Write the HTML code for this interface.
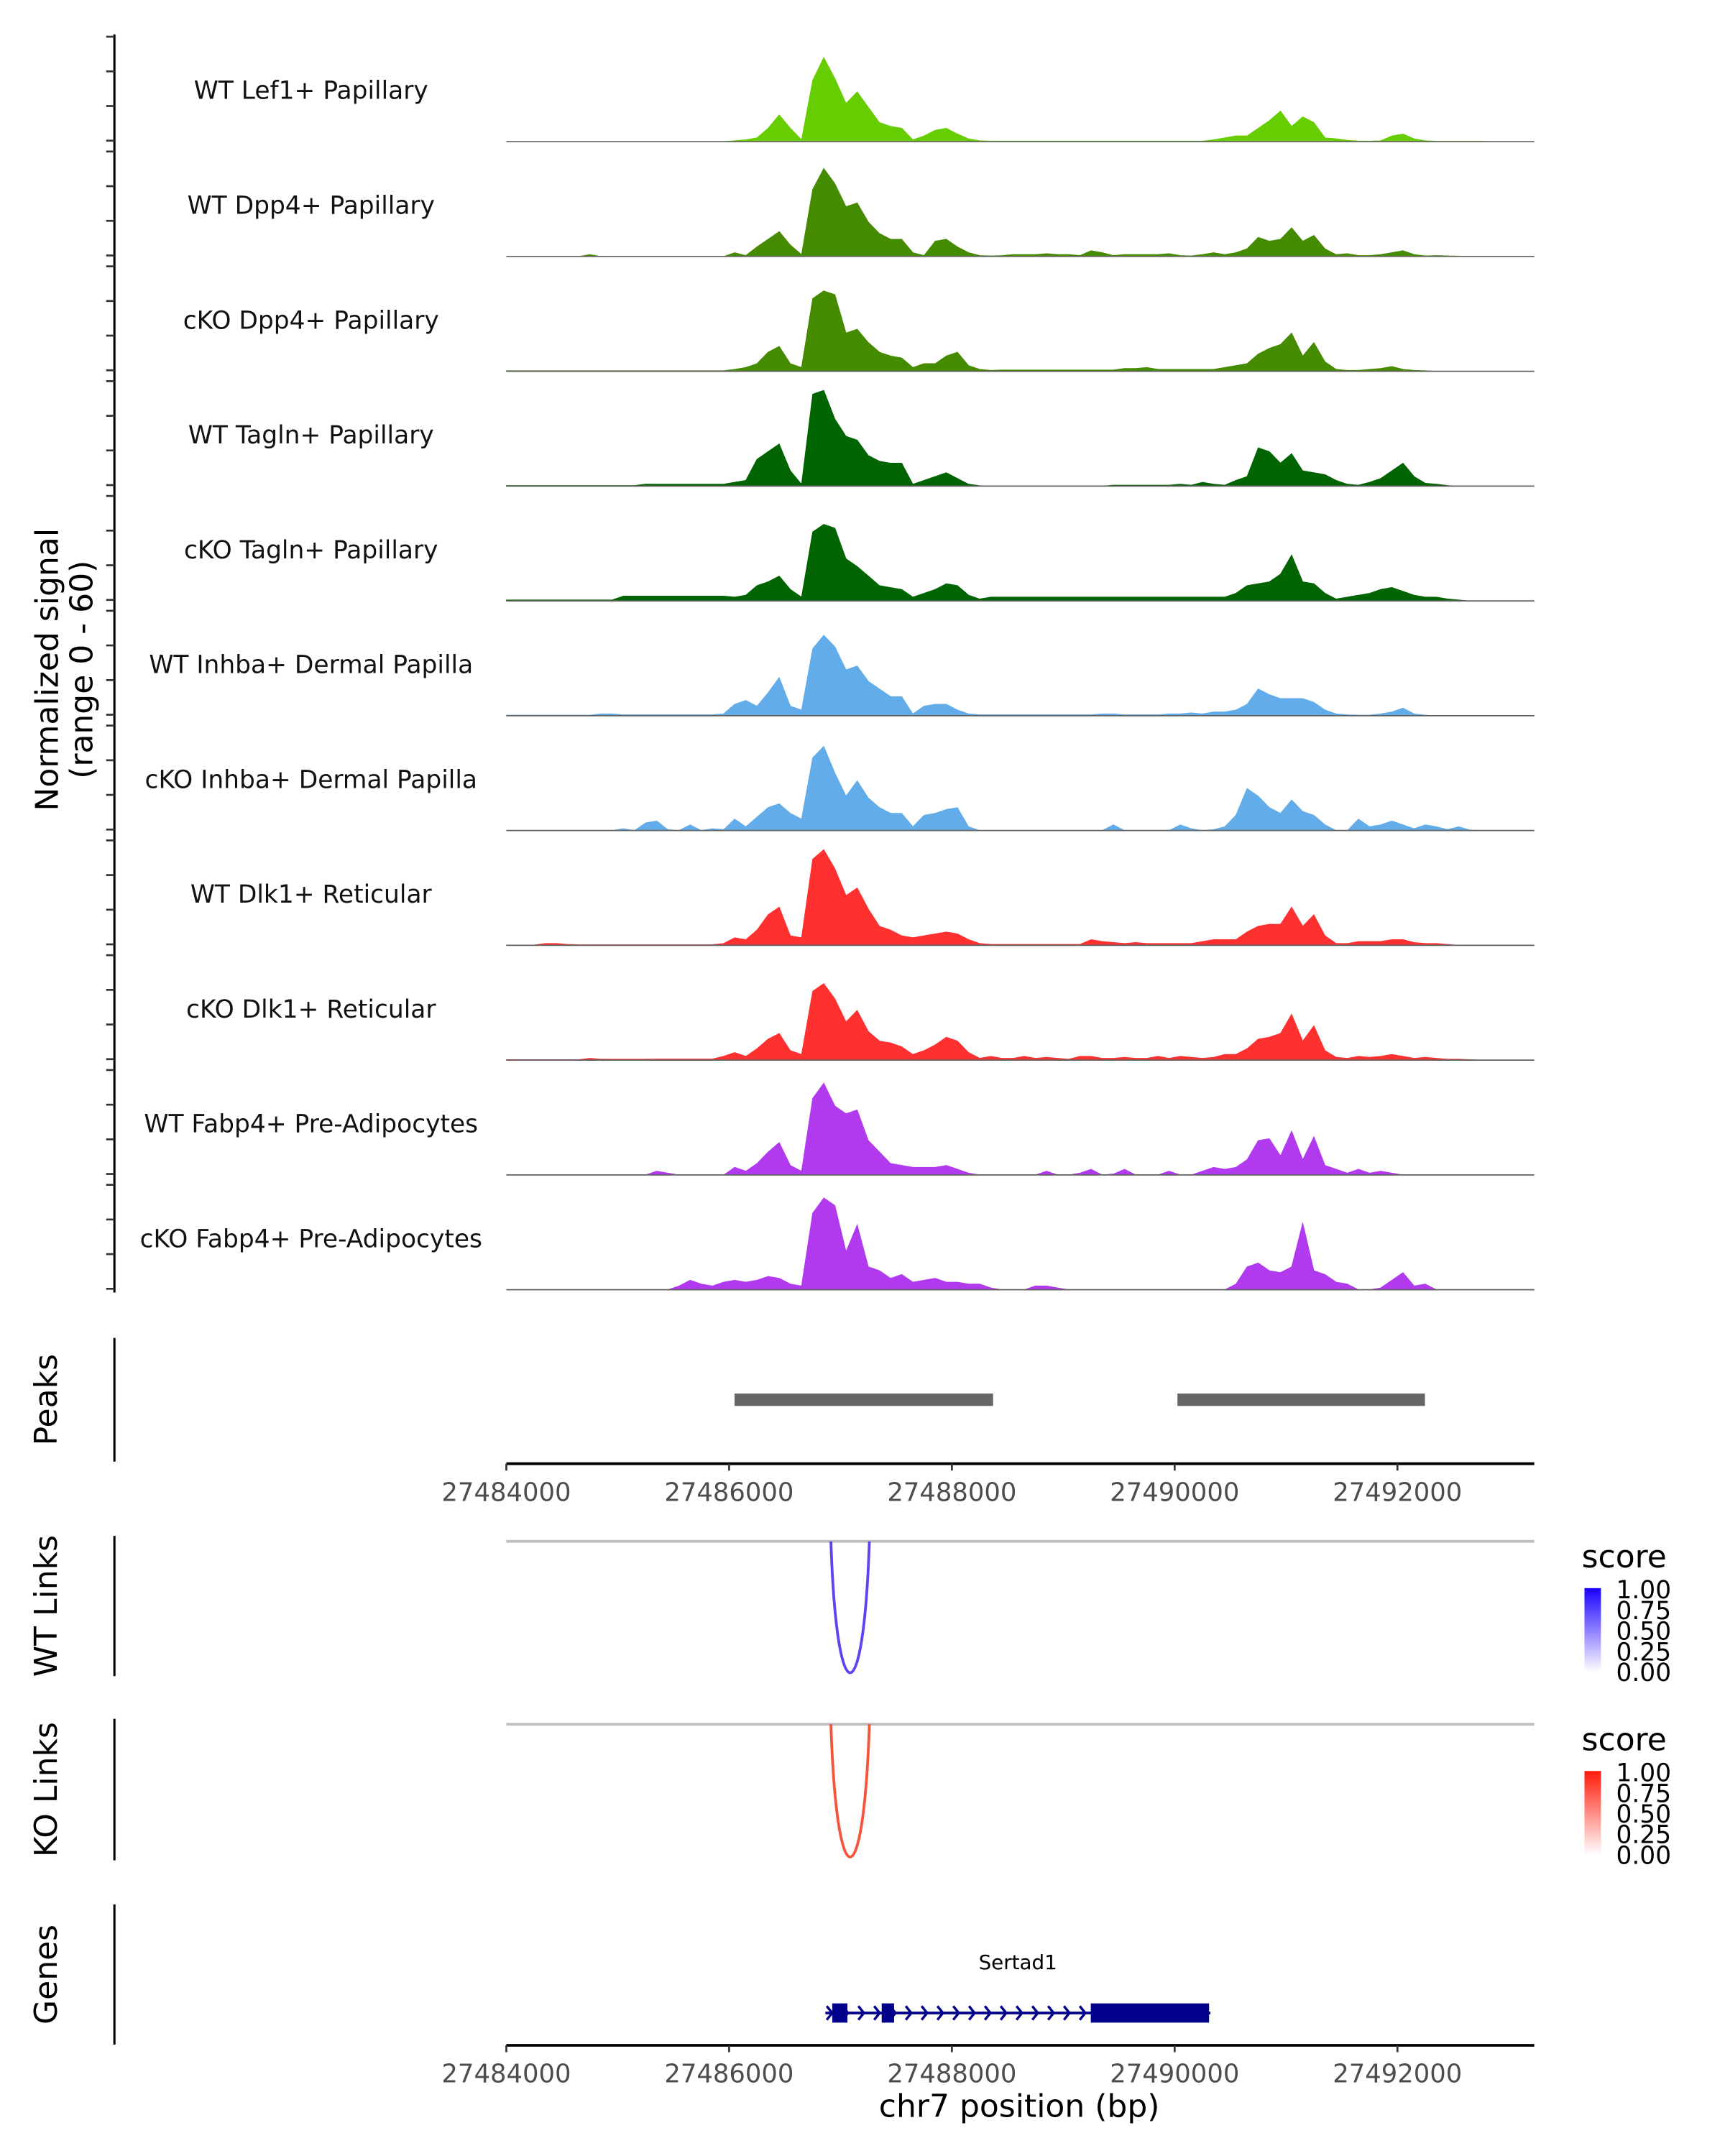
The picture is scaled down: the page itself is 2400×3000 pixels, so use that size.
<!DOCTYPE html>
<html><head><meta charset="utf-8"><title>Coverage plot Sertad1</title>
<style>html,body{margin:0;padding:0;background:#fff}svg{display:block}text{font-family:"DejaVu Sans","Liberation Sans",sans-serif}</style>
</head><body>
<svg id="chart" xmlns="http://www.w3.org/2000/svg" width="2400" height="3000" viewBox="0 0 1254 1568">
<defs>
<linearGradient id="gradWT" x1="0" y1="1" x2="0" y2="0"><stop offset="0" stop-color="#ffffff"/><stop offset="1" stop-color="#1a00ff"/></linearGradient>
<linearGradient id="gradKO" x1="0" y1="1" x2="0" y2="0"><stop offset="0" stop-color="#ffffff"/><stop offset="1" stop-color="#ff1a0a"/></linearGradient>
</defs>
<g id="tracks"></g>
<text transform="translate(42,487) rotate(-90)" text-anchor="middle" font-size="23">Normalized signal</text>
<text transform="translate(67,487) rotate(-90)" text-anchor="middle" font-size="23">(range 0 - 60)</text>
<g id="peaks"></g>
<g id="links"></g>
<g id="genes"></g>
</svg>
<script>
const NS='http://www.w3.org/2000/svg';
const binStart=27484000, binSize=100;
const trackNames=["WT Lef1+ Papillary","WT Dpp4+ Papillary","cKO Dpp4+ Papillary","WT Tagln+ Papillary","cKO Tagln+ Papillary","WT Inhba+ Dermal Papilla","cKO Inhba+ Dermal Papilla","WT Dlk1+ Reticular","cKO Dlk1+ Reticular","WT Fabp4+ Pre-Adipocytes","cKO Fabp4+ Pre-Adipocytes"];
const trackColors=["#66cd00","#458b00","#458b00","#006400","#006400","#63acea","#63acea","#ff3030","#ff3030","#b23aee","#b23aee"];
const sigLef1WT=[0,0,0,0,0,0,0,0,0,0,0,0,0,0,0,0,0,0,0,0,0,0.5,1,2,7,14,7,1,32,44,33,20,26,18,10,8,7,1,3,6,7,4,1.5,0.5,0.3,0.3,0.3,0.3,0.3,0.3,0.3,0.3,0.3,0.3,0.3,0.3,0.3,0.3,0.3,0.3,0.3,0.3,0.3,0.3,1,2,3,3,7,11,16,8,13,10,2,1.5,0.7,0.3,0.3,0.5,3,4,1.5,0.5,0.2,0.2,0.2,0.2,0.2,0,0,0,0];
const sigDpp4WT=[0,0,0,0,0,0,0,0,1,0,0,0,0,0,0,0,0,0,0,0,0,2,0.5,5,9,13,6,1,35,46,38,26,28,18,12,9,9,2,0.5,8,9,5,2,0.5,0.3,0.5,1,1,1,1.5,1,1,0.5,3,2,0.5,1,1,1,1,1.5,0.5,0.3,1,2,1,2,4,10,8,9,15,8,11,4,1,1.5,0.5,0.5,1,2,3,1,0.3,0.5,0.3,0.2,0,0,0,0,0,0];
const sigDpp4KO=[0.3,0.3,0.3,0.3,0.3,0.3,0.3,0.3,0.3,0.3,0.3,0.3,0.3,0.3,0.3,0.3,0.3,0.3,0.3,0.3,0.3,1,2,4,10,13,4,2,38,42,40,20,22,15,10,8,7,2,4,4,8,10,3,1,0.5,0.7,0.7,0.7,0.7,0.7,0.7,0.7,0.7,0.7,0.7,0.7,1.5,1.5,2,1,1,1,1,1,1,2,3,4,9,12,14,20,8,15,5,1,0.5,0.5,1,1.5,2.5,1,0.5,0.3,0,0,0,0,0,0,0,0,0];
const sigTaglnWT=[0.3,0.3,0.3,0.3,0.3,0.3,0.3,0.3,0.3,0.3,0.3,0.3,0.3,1,1,1,1,1,1,1,1,2,3,14,18,22,8,1,48,50,35,26,24,16,13,12,12,1,3,5,7,4,1,0.2,0,0,0,0,0,0,0,0,0,0,0,0.5,0.5,0.5,0.5,0.5,0.5,1,0.5,2,1,0.5,3,5,20,18,12,17,8,7,6,3,1,0.5,2,4,8,12,5,1.5,1,0.3,0,0,0,0,0,0,0];
const sigTaglnKO=[0.5,0.5,0.5,0.5,0.5,0.5,0.5,0.5,0.5,0.5,0.5,2.5,2.5,2.5,2.5,2.5,2.5,2.5,2.5,2.5,2.5,2,3,8,10,13,6,2,36,40,38,22,18,13,8,7,6,2,4,6,9,8,3,1,2,2,2,2,2,2,2,2,2,2,2,2,2,2,2,2,2,2,2,2,2,2,4,8,9,10,14,24,10,9,4,1,2,3,4,6,7,5,3,2,2,1,0.5,0,0,0,0,0,0];
const sigInhbaWT=[0.3,0.3,0.3,0.3,0.3,0.3,0.3,0.3,0.3,1,1,0.5,0.5,0.5,0.5,0.5,0.5,0.5,0.5,0.5,1,6,8,5,12,20,5,3,35,42,36,24,26,18,14,10,10,1,5,6,6,3,1,0.5,0.5,0.5,0.5,0.5,0.5,0.5,0.5,0.5,0.5,0.5,1,1,0.5,0.5,0.5,0.5,1,1,1.5,1,2,2,3,6,14,11,9,9,9,7,3,1,0.5,0.3,0.3,1,2,4,1,0.3,0,0,0,0,0,0,0,0,0];
const sigInhbaKO=[0,0,0,0,0,0,0,0,0,0,0,1,0,4,5,0.5,0,3,0,1,0.5,6,2,7,12,14,9,6,38,44,30,18,26,17,12,9,9,2,8,9,11,12,2,0,0,0,0,0,0,0,0,0,0,0,0,3,0,0,0,0,0,3,1,0,0.5,2,8,22,18,12,9,16,10,8,3,0,0,6,2,3,5,3,1,3,2,0.5,2,0.3,0,0,0,0,0];
const sigDlk1WT=[0.2,0.2,0.2,0.2,1,1,0.5,0.3,0.3,0.3,0.3,0.3,0.3,0.3,0.3,0.3,0.3,0.3,0.3,0.3,1,4,3,8,16,20,5,4,45,50,40,26,30,19,10,8,5,4,5,6,7,6,3,1,0.5,0.5,0.5,0.5,0.5,0.5,0.5,0.5,0.5,3,2,1.5,1,1.5,1,1,1,1,1,2,3,3,3,7,10,11,11,20,10,16,5,1,1,2,2,2,3,3,1.5,1,1,0.5,0,0,0,0,0,0,0];
const sigDlk1KO=[0.3,0.3,0.3,0.3,0.3,0.3,0.3,0.3,1,0.5,0.5,0.5,0.5,0.5,0.6,0.6,0.6,0.6,0.6,0.6,2,4,2,6,11,14,5,3,36,40,32,20,26,15,10,9,7,3,5,8,12,10,4,1,2,1,1,2,1,1.5,1,0.5,2,2,1,1,1.5,1,1,2,1,2,1.5,1,1.5,3,3,6,11,12,14,24,10,18,5,1.5,1,2,1.5,2,3,2,1,1.5,1,0.5,0.5,0.3,0,0,0,0,0];
const sigFabp4WT=[0,0,0,0,0,0,0,0,0,0,0,0,0,0,2,1,0,0,0,0,0,4,2,6,12,17,5,2,40,48,36,32,34,18,12,6,5,4,4,4,5,3,1,0,0,0,0,0,0,2,0,0,1,3,0,0.5,3,0,0,0,2,0,0,2,4,3,4,8,18,19,10,23,8,20,5,3,1,3,1,2,1,0,0,0,0,0,0,0,0,0,0,0,0];
const sigFabp4KO=[0,0,0,0,0,0,0,0,0,0,0,0,0,0,0,0,2,5,3,2,4,5,4,5,7,6,3,2,40,48,44,20,34,12,10,6,8,4,5,6,4,4,3,3,1,0,0,0,2,2,1,0,0,0,0,0,0,0,0,0,0,0,0,0,0,0,3,12,14,10,9,12,35,10,8,4,3,0,0,1,5,9,2,3,0,0,0,0,0,0,0,0,0];
const trackData=[sigLef1WT,sigDpp4WT,sigDpp4KO,sigTaglnWT,sigTaglnKO,sigInhbaWT,sigInhbaKO,sigDlk1WT,sigDlk1KO,sigFabp4WT,sigFabp4KO];
const xTicks=[27484000,27486000,27488000,27490000,27492000];
const yTicks=[0,20,40,60];
const peakStarts=[27486049,27490025];
const peakEnds=[27488370,27492247];
const linkStartsWT=[27486914], linkEndsWT=[27487259], linkScoresWT=[0.9];
const linkStartsKO=[27486914], linkEndsKO=[27487259], linkScoresKO=[0.85];
const legendLabels=["1.00","0.75","0.50","0.25","0.00"];
const legendValues=[1,0.75,0.5,0.25,0];
const geneName="Sertad1";
const geneStart=27486864, geneEnd=27490321;
const exonStarts=[27486926,27487370,27489247];
const exonEnds=[27487062,27487481,27490309];

const X0=368, X1=1115.5;
function xs(bp){return X0+(bp-binStart)*0.081;}
function xsc(bp){return Math.max(X0,Math.min(X1,xs(bp)));}
const trackBase0=103, trackStep=83.5, pxPerUnit=1.393, tickPxPerUnit=1.26;
function ys(i,v){return trackBase0+i*trackStep-v*pxPerUnit;}
function el(tag,attrs,parent){const e=document.createElementNS(NS,tag);for(const k in attrs)e.setAttribute(k,attrs[k]);parent.appendChild(e);return e;}

const gT=document.getElementById('tracks');
const ax=el('line',{x1:83,y1:25,x2:83,y2:940,stroke:'#000','stroke-width':1.6},gT);


trackData.forEach((vals,i)=>{
  const base=trackBase0+i*trackStep;
  let d='M'+X0+','+base;
  vals.forEach((v,k)=>{d+=' L'+xsc(binStart+k*binSize-50).toFixed(2)+','+ys(i,v).toFixed(2);});
  d+=' L'+xsc(binStart+vals.length*binSize-50)+','+base+' Z';
  const p=el('path',{d:d,fill:trackColors[i],stroke:trackColors[i],'stroke-width':0.4},gT);
  
  
  const bl=el('line',{x1:X0,y1:base,x2:X1,y2:base,stroke:'#606060','stroke-width':0.9},gT);
  
  
  const t=el('text',{x:226,y:base-31,'text-anchor':'middle','font-size':18,fill:'#111'},gT);
  t.textContent=trackNames[i];
  
  
  yTicks.forEach(tv=>{
    const ty=base-0.7-tv*tickPxPerUnit;
    const tk=el('line',{x1:77,y1:ty,x2:83,y2:ty,stroke:'#333','stroke-width':1.4},gT);
    
    
  });
});

function xAxis(y,parent,withTitle){
  const a=el('line',{x1:X0,y1:y,x2:X1,y2:y,stroke:'#000','stroke-width':2},parent);
  
  
  xTicks.forEach(v=>{
    const tk=el('line',{x1:xs(v),y1:y,x2:xs(v),y2:y+5,stroke:'#333','stroke-width':1.4},parent);
    
    
    const tl=el('text',{x:xs(v),y:y+27,'text-anchor':'middle','font-size':18.5,fill:'#4d4d4d'},parent);
    tl.textContent=v;
    
    
  });
  if(withTitle){
    const tt=el('text',{x:741,y:y+52,'text-anchor':'middle','font-size':23,fill:'#000'},parent);
    tt.textContent='chr7 position (bp)';
    
    
  }
}
function sideAxis(y1,y2,label,parent){
  const a=el('line',{x1:83,y1:y1,x2:83,y2:y2,stroke:'#000','stroke-width':1.6},parent);
  
  
  const t=el('text',{transform:'translate(41,'+((y1+y2)/2)+') rotate(-90)','text-anchor':'middle','font-size':23,fill:'#000'},parent);
  t.textContent=label;
  
  
}

const gP=document.getElementById('peaks');
sideAxis(973,1063,'Peaks',gP);
peakStarts.forEach((s,i)=>{
  const r=el('rect',{x:xs(s),y:1013.5,width:xs(peakEnds[i])-xs(s),height:9,fill:'#666'},gP);
  
  
});
xAxis(1064.5,gP,false);

const gL=document.getElementById('links');
function linkPanel(top,bottom,label,starts,ends,scores,color,grad){
  sideAxis(top-4,bottom,label,gL);
  const gl=el('line',{x1:X0,y1:top,x2:X1,y2:top,stroke:'#bebebe','stroke-width':2},gL);
  
  
  starts.forEach((s,i)=>{
    const a=xs(s), b=xs(ends[i]), depth=(bottom-top)*1.3;
    const p=el('path',{d:`M${a},${top} C${a+(b-a)*0.15},${top+depth} ${b-(b-a)*0.15},${top+depth} ${b},${top}`,fill:'none',stroke:color,'stroke-width':2,'stroke-opacity':0.4+0.6*scores[i]},gL);
    
    
  });
  const ly=top+11;
  const st=el('text',{x:1150,y:ly+8,'font-size':23,fill:'#000'},gL);
  st.textContent='score';
  
  
  const bar=el('rect',{x:1152,y:ly+23,width:12,height:61,fill:'url(#'+grad+')'},gL);
  
  
  legendValues.forEach((v,i)=>{
    const yy=ly+24+(1-v)*60;
    const lt=el('text',{x:1175,y:yy+6.5,'font-size':18,fill:'#000'},gL);
    lt.textContent=legendLabels[i];
    
    
  });
}
linkPanel(1121,1219,'WT Links',linkStartsWT,linkEndsWT,linkScoresWT,'#5a34f0','gradWT');
linkPanel(1254,1353,'KO Links',linkStartsKO,linkEndsKO,linkScoresKO,'#f5432a','gradKO');

const gG=document.getElementById('genes');
sideAxis(1385,1487,'Genes',gG);
const gy=1464;
const gn=el('text',{x:(xs(geneStart)+xs(geneEnd))/2,y:1432,'text-anchor':'middle','font-size':14.5,fill:'#000'},gG);
gn.textContent=geneName;


const gl=el('line',{x1:xs(geneStart),y1:gy,x2:xs(geneEnd),y2:gy,stroke:'#00008b','stroke-width':2},gG);


for(let x=xs(geneStart)+3;x<xs(exonStarts[2]);x+=11.5){
  const c=el('path',{d:`M${x-2},${gy-5} L${x+2},${gy} L${x-2},${gy+5}`,fill:'none',stroke:'#00008b','stroke-width':1.8},gG);
  
  
}
exonStarts.forEach((s,i)=>{
  const r=el('rect',{x:xs(s),y:gy-7,width:xs(exonEnds[i])-xs(s),height:14,fill:'#00008b'},gG);
  
  
});
xAxis(1487.5,gG,true);
</script>
</body></html>
